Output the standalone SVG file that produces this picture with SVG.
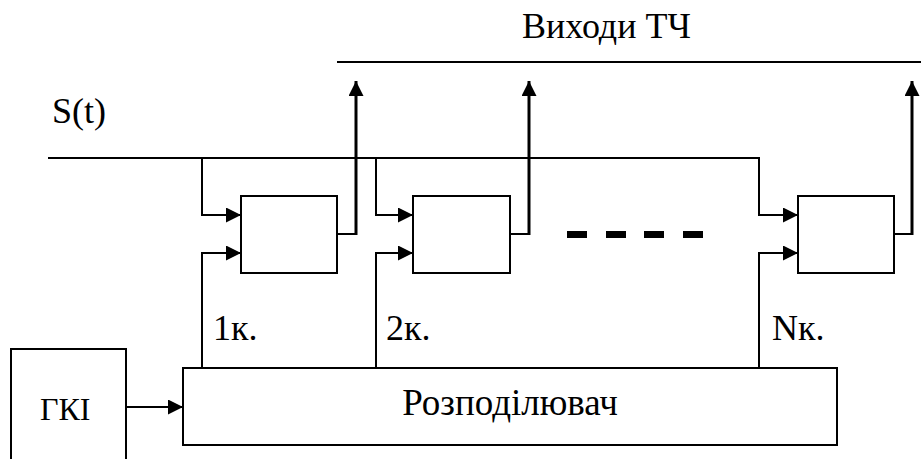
<svg xmlns="http://www.w3.org/2000/svg" width="921" height="459" viewBox="0 0 921 459">
<style>
.box{fill:#fff;stroke:#000;stroke-width:2}
.wire{fill:none;stroke:#000;stroke-width:2}
.out{fill:none;stroke:#000;stroke-width:3}
text{font-family:"Liberation Serif","Times New Roman",serif;font-size:36px;fill:#000}
</style>
<defs>
<marker id="arr" viewBox="0 0 15 15" markerUnits="userSpaceOnUse" markerWidth="15" markerHeight="15" refX="15" refY="7.5" orient="auto">
<path d="M0,0 L15,7.5 L0,15 z" fill="#000"/>
</marker>
</defs>
<rect width="921" height="459" fill="#fff"/>
<g id="connectors">
<path class="wire" d="M337,62 H921"/>
<path class="wire" d="M48,158 H759 V215 H798" marker-end="url(#arr)"/>
<path class="wire" d="M202,158 V215 H241" marker-end="url(#arr)"/>
<path class="wire" d="M376,158 V215 H413" marker-end="url(#arr)"/>
<path class="wire" d="M202,368 V253 H241" marker-end="url(#arr)"/>
<path class="wire" d="M376,368 V253 H413" marker-end="url(#arr)"/>
<path class="wire" d="M759,368 V253 H798" marker-end="url(#arr)"/>
<path class="wire" d="M337,234 H356"/>
<path class="out" d="M356,235 V81" marker-end="url(#arr)"/>
<path class="wire" d="M510,234 H529"/>
<path class="out" d="M529,235 V81" marker-end="url(#arr)"/>
<path class="wire" d="M894,234 H912"/>
<path class="out" d="M912,235 V81" marker-end="url(#arr)"/>
<path class="wire" d="M126,407 H183" marker-end="url(#arr)"/>
<g id="dots" fill="#000">
<rect x="567" y="231" width="20" height="7"/>
<rect x="606" y="231" width="20" height="7"/>
<rect x="644" y="231" width="20" height="7"/>
<rect x="683" y="231" width="20" height="7"/>
</g>
</g>
<g id="box1"><rect class="box" x="241" y="196" width="96" height="77"/></g>
<g id="box2"><rect class="box" x="413" y="196" width="97" height="77"/></g>
<g id="box3"><rect class="box" x="798" y="196" width="96" height="77"/></g>
<g id="distributor"><rect class="box" x="183" y="368" width="654" height="77"/>
<text x="510" y="415" text-anchor="middle" style="font-size:37px">Розподілювач</text></g>
<g id="gki"><rect class="box" x="11" y="349" width="115" height="130"/>
<text x="40" y="420" style="font-size:32px">ГКІ</text></g>
<g id="labels">
<text x="522" y="38">Виходи ТЧ</text>
<text x="52" y="123">S(t)</text>
<text x="213" y="340">1к.</text>
<text x="386" y="340">2к.</text>
<text x="772" y="340">Nк.</text>
</g>
</svg>
